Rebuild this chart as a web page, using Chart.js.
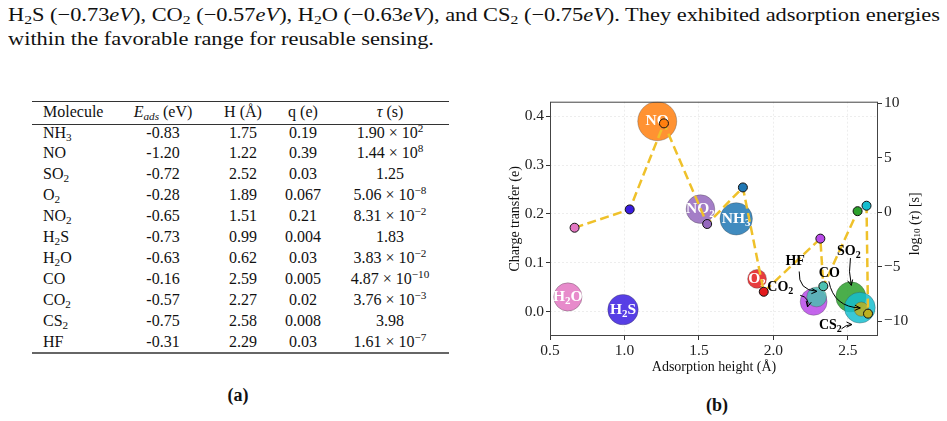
<!DOCTYPE html>
<html>
<head>
<meta charset="utf-8">
<script src="https://cdn.jsdelivr.net/npm/chart.js@4.4.1/dist/chart.umd.min.js"></script>
<style>
  html, body { margin: 0; padding: 0; background: #fff; }
  body { width: 947px; height: 421px; position: relative; overflow: hidden; font-family: "Liberation Serif", serif; color: #111; }
  .para { position: absolute; left: 8px; font-size: 19px; white-space: nowrap; transform-origin: 0 0; line-height: 1; }
  #line1 { top: 5px; }
  #line2 { top: 29px; }
  sub { font-size: 70%; vertical-align: -0.25em; line-height: 0; }
  sup { font-size: 70%; vertical-align: 0.5em; line-height: 0; }
  .rule { position: absolute; left: 32px; width: 417px; background: #333; }
  .cell { position: absolute; font-size: 16px; white-space: nowrap; line-height: 1; }
  .cap { position: absolute; font-weight: bold; font-size: 18px; transform: translate(-50%, -50%); }
  #wrap { position: absolute; left: 490px; top: 92px; width: 450px; height: 292px; }
</style>
</head>
<body>
<div class="para" id="line1">H<sub>2</sub>S (−0.73<i>eV</i>), CO<sub>2</sub> (−0.57<i>eV</i>), H<sub>2</sub>O (−0.63<i>eV</i>), and CS<sub>2</sub> (−0.75<i>eV</i>). They exhibited adsorption energies</div>
<div class="para" id="line2">within the favorable range for reusable sensing.</div>

<div id="table"></div>
<div class="cap" style="left:238px; top:395px;">(a)</div>
<div class="cap" style="left:717px; top:405px;">(b)</div>

<div id="wrap"><canvas id="bubbleChart" width="450" height="292"></canvas></div>

<script>
// table (a)
const tableMolecules = ['NH_3', 'NO', 'SO_2', 'O_2', 'NO_2', 'H_2S', 'H_2O', 'CO', 'CO_2', 'CS_2', 'HF'];
const tableEads = ['-0.83', '-1.20', '-0.72', '-0.28', '-0.65', '-0.73', '-0.63', '-0.16', '-0.57', '-0.75', '-0.31'];
const tableH = ['1.75', '1.22', '2.52', '1.89', '1.51', '0.99', '0.62', '2.59', '2.27', '2.58', '2.29'];
const tableQ = ['0.19', '0.39', '0.03', '0.067', '0.21', '0.004', '0.03', '0.005', '0.02', '0.008', '0.03'];
const tableTau = ['1.90e2', '1.44e8', '1.25', '5.06e-8', '8.31e-2', '1.83', '3.83e-2', '4.87e-10', '3.76e-3', '3.98', '1.61e-7'];

// chart (b), ordered by adsorption height
const molecules = ['H_2O', 'H_2S', 'NO', 'NO_2', 'NH_3', 'O_2', 'CO_2', 'HF', 'SO_2', 'CS_2', 'CO'];
const heights = [0.62, 0.99, 1.22, 1.51, 1.75, 1.89, 2.27, 2.29, 2.52, 2.58, 2.59];
const charge = [0.03, 0.004, 0.39, 0.21, 0.19, 0.067, 0.02, 0.03, 0.03, 0.008, 0.005];
const eads = [-0.63, -0.73, -1.20, -0.65, -0.83, -0.28, -0.57, -0.31, -0.72, -0.75, -0.16];
const tauX = [0.665, 1.035, 1.265, 1.555, 1.795, 1.935, 2.315, 2.335, 2.565, 2.625, 2.635];
const logTau = [-1.42, 0.26, 8.16, -1.08, 2.28, -7.30, -2.42, -6.79, 0.10, 0.60, -9.31];

const xTicks = [0.5, 1.0, 1.5, 2.0, 2.5];
const yTicks = [0.0, 0.1, 0.2, 0.3, 0.4];
const y2Ticks = [-10, -5, 0, 5, 10];

const colors = ['#e377c2', '#3a1de0', '#ff7f0e', '#9467bd', '#1f77b4', '#e31a1c', '#b84ae8', '#4cc0b0', '#2ca02c', '#17becf', '#bcb020'];
const insideLabels = ['H_2O', 'H_2S', 'NO', 'NO_2', 'NH_3', 'O_2'];

// text labels with arrows for the crowded corner (data coords)
const notes = [
    { label: 'HF',   tx: 2.146, ty: 0.1027, x0: 2.173, y0: 0.0822, x1: 2.292, y1: 0.0414, bend: 0.5 },
    { label: 'CO_2', tx: 2.046, ty: 0.0504, x0: 2.180, y0: 0.0333, x1: 2.229, y1: 0.0096, bend: -0.5 },
    { label: 'SO_2', tx: 2.506, ty: 0.1235, x0: 2.517, y0: 0.1096, x1: 2.523, y1: 0.0537, bend: 0.1 },
    { label: 'CO',   tx: 2.375, ty: 0.0776, x0: 2.372, y0: 0.0619, x1: 2.583, y1: 0.0075, bend: 0.4 },
    { label: 'CS_2', tx: 2.382, ty: -0.0286, x0: 2.457, y0: -0.0353, x1: 2.527, y1: -0.0265, bend: -0.2 }
];

const serif = '"Liberation Serif", serif';

function chemHtml(s) {
    return s.replace(/_(\d)/g, '<sub>$1</sub>');
}

function tauHtml(s) {
    if (s.indexOf('e') < 0) return s;
    const [m, e] = s.split('e');
    return m + ' × 10<sup>' + e.replace('-', '−') + '</sup>';
}

function buildTable() {
    const box = document.getElementById('table');
    const centers = [null, 163, 243, 303, 390];
    const add = (html, col, y) => {
        const d = document.createElement('div');
        d.className = 'cell';
        d.innerHTML = html;
        if (col === 0) {
            d.style.left = '43px';
            d.style.transform = 'translate(0, -50%)';
        } else {
            d.style.left = centers[col] + 'px';
            d.style.transform = 'translate(-50%, -50%)';
        }
        d.style.top = y + 'px';
        box.appendChild(d);
    };
    const header = ['Molecule', '<i>E</i><sub><i>ads</i></sub> (eV)', 'H (Å)', 'q (e)', '<i>τ</i> (s)'];
    header.forEach((h, c) => add(h, c, 111.5));
    tableMolecules.forEach((m, i) => {
        const y = 132.5 + i * 20.9;
        add(chemHtml(m), 0, y);
        add(tableEads[i], 1, y);
        add(tableH[i], 2, y);
        add(tableQ[i], 3, y);
        add(tauHtml(tableTau[i]), 4, y);
    });
    [[100.5, 1.6], [124, 0.8], [351.5, 2.2]].forEach(([y, h]) => {
        const r = document.createElement('div');
        r.className = 'rule';
        r.style.top = y + 'px';
        r.style.height = h + 'px';
        if (h > 2) r.style.background = '#666';
        box.appendChild(r);
    });
}

function fitParagraph() {
    const l1 = document.getElementById('line1');
    const l2 = document.getElementById('line2');
    const w = l1.getBoundingClientRect().width;
    const s = 932 / w;
    l1.style.transform = 'scaleX(' + s + ')';
    l2.style.transform = 'scaleX(' + s + ')';
}

// draw text like NO_2 with real subscripts, centred on x,y
function drawChem(ctx, str, x, y, size, color) {
    const parts = [];
    for (let i = 0; i < str.length; i++) {
        if (str[i] === '_') { parts.push({ t: str[i + 1], sub: true }); i++; }
        else parts.push({ t: str[i], sub: false });
    }
    const mainFont = 'bold ' + size + 'px ' + serif;
    const subFont = 'bold ' + Math.round(size * 0.7) + 'px ' + serif;
    let total = 0;
    parts.forEach(p => {
        ctx.font = p.sub ? subFont : mainFont;
        p.w = ctx.measureText(p.t).width;
        total += p.w;
    });
    let cx = x - total / 2;
    ctx.save();
    ctx.fillStyle = color;
    ctx.textAlign = 'left';
    ctx.textBaseline = 'middle';
    parts.forEach(p => {
        ctx.font = p.sub ? subFont : mainFont;
        ctx.fillText(p.t, cx, p.sub ? y + size * 0.3 : y);
        cx += p.w;
    });
    ctx.restore();
}

const bubbleText = {
    id: 'bubbleText',
    afterDatasetDraw(chart, args) {
        if (args.index !== 0) return;
        const ctx = chart.ctx;
        args.meta.data.forEach((el, i) => {
            if (!insideLabels.includes(molecules[i])) return;
            drawChem(ctx, molecules[i], el.x, el.y, 15.5, '#fff');
        });
    }
};

const frameAndNotes = {
    id: 'frameAndNotes',
    afterDraw(chart) {
        const { ctx, chartArea: a } = chart;
        const sx = chart.scales.x, sy = chart.scales.y;

        ctx.save();
        ctx.strokeStyle = '#444';
        ctx.lineWidth = 1;
        ctx.strokeRect(a.left + 0.5, a.top + 0.5, a.right - a.left - 1, a.bottom - a.top - 1);
        ctx.restore();

        notes.forEach(n => {
            drawChem(ctx, n.label, sx.getPixelForValue(n.tx), sy.getPixelForValue(n.ty), 14, '#000');
            const p0 = { x: sx.getPixelForValue(n.x0), y: sy.getPixelForValue(n.y0) };
            const p1 = { x: sx.getPixelForValue(n.x1), y: sy.getPixelForValue(n.y1) };
            const dx = p1.x - p0.x, dy = p1.y - p0.y;
            const c = { x: (p0.x + p1.x) / 2 - n.bend * dy, y: (p0.y + p1.y) / 2 + n.bend * dx };
            ctx.save();
            ctx.strokeStyle = '#000';
            ctx.lineWidth = 1;
            ctx.beginPath();
            ctx.moveTo(p0.x, p0.y);
            ctx.quadraticCurveTo(c.x, c.y, p1.x, p1.y);
            ctx.stroke();
            const ang = Math.atan2(p1.y - c.y, p1.x - c.x);
            ctx.beginPath();
            ctx.moveTo(p1.x - 6 * Math.cos(ang - 0.45), p1.y - 6 * Math.sin(ang - 0.45));
            ctx.lineTo(p1.x, p1.y);
            ctx.lineTo(p1.x - 6 * Math.cos(ang + 0.45), p1.y - 6 * Math.sin(ang + 0.45));
            ctx.stroke();
            ctx.restore();
        });

        // axis titles
        ctx.save();
        ctx.fillStyle = '#111';
        ctx.textAlign = 'center';
        ctx.textBaseline = 'middle';
        ctx.font = '14px ' + serif;
        ctx.fillText('Adsorption height (Å)', (a.left + a.right) / 2, a.bottom + 31);
        ctx.translate(a.left - 35, (a.top + a.bottom) / 2);
        ctx.rotate(-Math.PI / 2);
        ctx.fillText('Charge transfer (e)', 0, 0);
        ctx.restore();

        // right title: log10(tau) [s]
        const runs = [
            { t: 'log', f: '14px ' + serif, dy: 0 },
            { t: '10', f: '9px ' + serif, dy: 3 },
            { t: ' (', f: '14px ' + serif, dy: 0 },
            { t: 'τ', f: 'italic 14px ' + serif, dy: 0 },
            { t: ') [s]', f: '14px ' + serif, dy: 0 }
        ];
        ctx.save();
        ctx.fillStyle = '#111';
        ctx.textBaseline = 'middle';
        ctx.textAlign = 'left';
        let total = 0;
        runs.forEach(r => { ctx.font = r.f; r.w = ctx.measureText(r.t).width; total += r.w; });
        ctx.translate(a.right + 37, (a.top + a.bottom) / 2 + 5);
        ctx.rotate(-Math.PI / 2);
        let cx = -total / 2;
        runs.forEach(r => { ctx.font = r.f; ctx.fillText(r.t, cx, r.dy); cx += r.w; });
        ctx.restore();
    }
};

function withAlpha(hex, a) {
    const n = parseInt(hex.slice(1), 16);
    return 'rgba(' + (n >> 16) + ',' + ((n >> 8) & 255) + ',' + (n & 255) + ',' + a + ')';
}

// fixed box size, and no extra room for tick labels hanging past the ends
function fixBox(size, vertical) {
    return s => {
        if (vertical) s.width = size; else s.height = size;
        s.paddingTop = 0;
        s.paddingBottom = 0;
        s.paddingLeft = 0;
        s.paddingRight = 0;
    };
}

function renderChart() {
    const ctx = document.getElementById('bubbleChart').getContext('2d');
    const tickFont = { family: serif, size: 15.5 };
    const gridBase = { color: 'rgba(0,0,0,0.09)', lineWidth: 0.8, tickColor: '#333', tickLength: 4, tickWidth: 1 };

    new Chart(ctx, {
        type: 'bubble',
        data: {
            datasets: [{
                label: 'q',
                order: 2,
                data: heights.map((h, i) => ({ x: h, y: charge[i] })),
                backgroundColor: colors.map(c => withAlpha(c, 0.85)),
                borderColor: 'rgba(60,60,60,0.45)',
                borderWidth: 0.7,
                radius: c => 17.8 * Math.sqrt(Math.abs(eads[c.dataIndex]))
            }, {
                type: 'line',
                label: 'tau',
                order: 1,
                yAxisID: 'y2',
                data: tauX.map((x, i) => ({ x: x, y: logTau[i] })),
                borderColor: '#efc12a',
                borderWidth: 2.5,
                borderDash: [9, 4.5],
                tension: 0,
                fill: false,
                pointRadius: 4.5,
                pointBackgroundColor: colors,
                pointBorderColor: '#111',
                pointBorderWidth: 1
            }]
        },
        options: {
            responsive: false,
            devicePixelRatio: 1,
            animation: false,
            events: [],
            layout: { autoPadding: false, padding: { top: 9.7, left: 0, right: 0, bottom: 0 } },
            plugins: { legend: { display: false }, tooltip: { enabled: false } },
            scales: {
                x: {
                    type: 'linear',
                    min: 0.5,
                    max: 2.702,
                    afterBuildTicks: s => { s.ticks = xTicks.map(v => ({ value: v })); },
                    afterFit: fixBox(48, false),
                    ticks: { font: tickFont, color: '#222', padding: 2, maxRotation: 0, autoSkip: false, callback: v => v.toFixed(1) },
                    grid: gridBase,
                    border: { display: false, dash: [2, 2] }
                },
                y: {
                    position: 'left',
                    min: -0.05,
                    max: 0.43,
                    afterBuildTicks: s => { s.ticks = yTicks.map(v => ({ value: v })); },
                    afterFit: fixBox(60, true),
                    ticks: { font: tickFont, color: '#222', padding: 2, autoSkip: false, callback: v => v.toFixed(1) },
                    grid: gridBase,
                    border: { display: false, dash: [2, 2] }
                },
                y2: {
                    position: 'right',
                    min: -11.36,
                    max: 10.15,
                    afterBuildTicks: s => { s.ticks = y2Ticks.map(v => ({ value: v })); },
                    afterFit: fixBox(62, true),
                    ticks: { font: tickFont, color: '#222', padding: 2, autoSkip: false, callback: v => (v < 0 ? '−' + Math.abs(v) : String(v)) },
                    grid: { drawOnChartArea: false, tickColor: '#333', tickLength: 4, tickWidth: 1 },
                    border: { display: false }
                }
            }
        },
        plugins: [bubbleText, frameAndNotes]
    });
}

document.addEventListener('DOMContentLoaded', () => {
    buildTable();
    fitParagraph();
    renderChart();
});
</script>
</body>
</html>
